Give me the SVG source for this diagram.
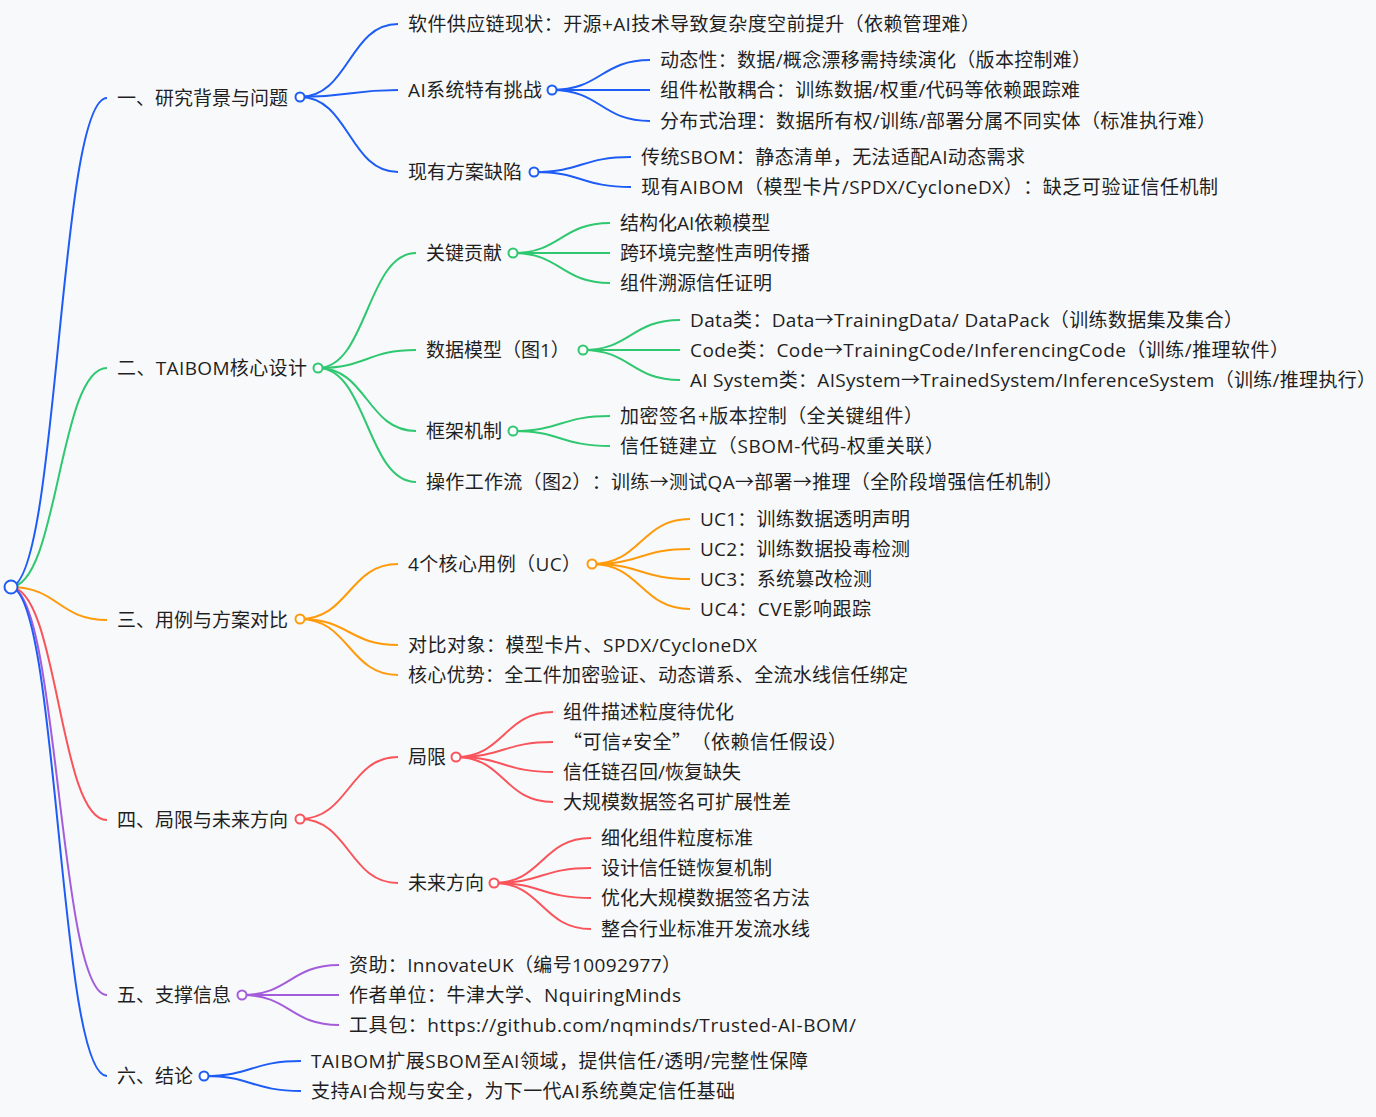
<svg xmlns="http://www.w3.org/2000/svg" width="1376" height="1117" viewBox="0 0 1376 1117">
<style>
text{font-family:"Open Sans","Noto Sans CJK SC",sans-serif;font-size:19px;fill:#1f1f1f;text-spacing-trim:space-all}
.q{font-family:"Noto Sans CJK SC",sans-serif}
path{fill:none;stroke-width:2}
circle{fill:#fff;stroke-width:2}
.cb{stroke:#1d5cf5}
.cg{stroke:#2fc870}
.co{stroke:#ff9a0a}
.cr{stroke:#f9545b}
.cp{stroke:#a35ddb}
</style>
<rect width="1376" height="1117" fill="#f8f9fb"/>
<g id="connectors">
<path class="cb" d="M10,587 C58.5,587 58.5,98 107,98"/>
<path class="cg" d="M10,587 C58.5,587 58.5,368 107,368"/>
<path class="co" d="M10,587 C58.5,587 58.5,620 107,620"/>
<path class="cr" d="M10,587 C58.5,587 58.5,820 107,820"/>
<path class="cp" d="M10,587 C58.5,587 58.5,995 107,995"/>
<path class="cb" d="M10,587 C58.5,587 58.5,1076 107,1076"/>
<path class="cb" d="M300,97 C349,97 349,24 398,24"/>
<path class="cb" d="M300,97 C349,97 349,90 398,90"/>
<path class="cb" d="M300,97 C349,97 349,172 398,172"/>
<path class="cb" d="M552,90 C601,90 601,60 650,60"/>
<path class="cb" d="M552,90 C601,90 601,90 650,90"/>
<path class="cb" d="M552,90 C601,90 601,121 650,121"/>
<path class="cb" d="M534,172 C582,172 582,157 631,157"/>
<path class="cb" d="M534,172 C582,172 582,187 631,187"/>
<path class="cg" d="M318,368 C367,368 367,253 416,253"/>
<path class="cg" d="M318,368 C367,368 367,350 416,350"/>
<path class="cg" d="M318,368 C367,368 367,431 416,431"/>
<path class="cg" d="M318,368 C367,368 367,482 416,482"/>
<path class="cg" d="M513,253 C561,253 561,223 610,223"/>
<path class="cg" d="M513,253 C561,253 561,253 610,253"/>
<path class="cg" d="M513,253 C561,253 561,283 610,283"/>
<path class="cg" d="M583,350 C631,350 631,320 680,320"/>
<path class="cg" d="M583,350 C631,350 631,350 680,350"/>
<path class="cg" d="M583,350 C631,350 631,380 680,380"/>
<path class="cg" d="M513,431 C561,431 561,416 610,416"/>
<path class="cg" d="M513,431 C561,431 561,446 610,446"/>
<path class="co" d="M300,619 C349,619 349,564 398,564"/>
<path class="co" d="M300,619 C349,619 349,645 398,645"/>
<path class="co" d="M300,619 C349,619 349,675 398,675"/>
<path class="co" d="M592,564 C641,564 641,519 690,519"/>
<path class="co" d="M592,564 C641,564 641,549 690,549"/>
<path class="co" d="M592,564 C641,564 641,579 690,579"/>
<path class="co" d="M592,564 C641,564 641,609 690,609"/>
<path class="cr" d="M300,819 C349,819 349,757 398,757"/>
<path class="cr" d="M300,819 C349,819 349,883 398,883"/>
<path class="cr" d="M456,757 C504,757 504,712 553,712"/>
<path class="cr" d="M456,757 C504,757 504,742 553,742"/>
<path class="cr" d="M456,757 C504,757 504,772 553,772"/>
<path class="cr" d="M456,757 C504,757 504,802 553,802"/>
<path class="cr" d="M494,883 C542,883 542,838 591,838"/>
<path class="cr" d="M494,883 C542,883 542,868 591,868"/>
<path class="cr" d="M494,883 C542,883 542,898 591,898"/>
<path class="cr" d="M494,883 C542,883 542,929 591,929"/>
<path class="cp" d="M242,995 C290,995 290,965 339,965"/>
<path class="cp" d="M242,995 C290,995 290,995 339,995"/>
<path class="cp" d="M242,995 C290,995 290,1025 339,1025"/>
<path class="cb" d="M204,1076 C252,1076 252,1061 301,1061"/>
<path class="cb" d="M204,1076 C252,1076 252,1091 301,1091"/>
</g>
<g id="root"><circle class="cb" cx="11" cy="587" r="6.5"/></g>
<g id="n1"><text x="117" y="105">一、研究背景与问题</text><circle class="cb" cx="300" cy="97" r="4.5"/></g>
<g id="n1-1"><text x="408" y="31" textLength="572">软件供应链现状：开源+AI技术导致复杂度空前提升（依赖管理难）</text></g>
<g id="n1-2"><text x="408" y="97" textLength="134">AI系统特有挑战</text><circle class="cb" cx="552" cy="90" r="4.5"/></g>
<g id="n1-2-1"><text x="660" y="67" textLength="431">动态性：数据/概念漂移需持续演化（版本控制难）</text></g>
<g id="n1-2-2"><text x="660" y="97" textLength="420">组件松散耦合：训练数据/权重/代码等依赖跟踪难</text></g>
<g id="n1-2-3"><text x="660" y="128" textLength="556">分布式治理：数据所有权/训练/部署分属不同实体（标准执行难）</text></g>
<g id="n1-3"><text x="408" y="179">现有方案缺陷</text><circle class="cb" cx="534" cy="172" r="4.5"/></g>
<g id="n1-3-1"><text x="641" y="164" textLength="384">传统SBOM：静态清单，无法适配AI动态需求</text></g>
<g id="n1-3-2"><text x="641" y="194" textLength="577">现有AIBOM（模型卡片/SPDX/CycloneDX）：缺乏可验证信任机制</text></g>
<g id="n2"><text x="117" y="375" textLength="190">二、TAIBOM核心设计</text><circle class="cg" cx="318" cy="368" r="4.5"/></g>
<g id="n2-1"><text x="426" y="260">关键贡献</text><circle class="cg" cx="513" cy="253" r="4.5"/></g>
<g id="n2-1-1"><text x="620" y="230">结构化AI依赖模型</text></g>
<g id="n2-1-2"><text x="620" y="260">跨环境完整性声明传播</text></g>
<g id="n2-1-3"><text x="620" y="290">组件溯源信任证明</text></g>
<g id="n2-2"><text x="426" y="357">数据模型（图1）</text><circle class="cg" cx="583" cy="350" r="4.5"/></g>
<g id="n2-2-1"><text x="690" y="327" textLength="553">Data类：Data→TrainingData/ DataPack（训练数据集及集合）</text></g>
<g id="n2-2-2"><text x="690" y="357" textLength="599">Code类：Code→TrainingCode/InferencingCode（训练/推理软件）</text></g>
<g id="n2-2-3"><text x="690" y="387" textLength="686">AI System类：AISystem→TrainedSystem/InferenceSystem（训练/推理执行）</text></g>
<g id="n2-3"><text x="426" y="438">框架机制</text><circle class="cg" cx="513" cy="431" r="4.5"/></g>
<g id="n2-3-1"><text x="620" y="423" textLength="303">加密签名+版本控制（全关键组件）</text></g>
<g id="n2-3-2"><text x="620" y="453" textLength="324">信任链建立（SBOM-代码-权重关联）</text></g>
<g id="n2-4"><text x="426" y="489" textLength="637">操作工作流（图2）：训练→测试QA→部署→推理（全阶段增强信任机制）</text></g>
<g id="n3"><text x="117" y="627">三、用例与方案对比</text><circle class="co" cx="300" cy="619" r="4.5"/></g>
<g id="n3-1"><text x="408" y="571" textLength="173">4个核心用例（UC）</text><circle class="co" cx="592" cy="564" r="4.5"/></g>
<g id="n3-1-1"><text x="700" y="526" textLength="210">UC1：训练数据透明声明</text></g>
<g id="n3-1-2"><text x="700" y="556" textLength="210">UC2：训练数据投毒检测</text></g>
<g id="n3-1-3"><text x="700" y="586" textLength="172">UC3：系统篡改检测</text></g>
<g id="n3-1-4"><text x="700" y="616" textLength="171">UC4：CVE影响跟踪</text></g>
<g id="n3-2"><text x="408" y="652" textLength="349">对比对象：模型卡片、SPDX/CycloneDX</text></g>
<g id="n3-3"><text x="408" y="682" textLength="500">核心优势：全工件加密验证、动态谱系、全流水线信任绑定</text></g>
<g id="n4"><text x="117" y="827">四、局限与未来方向</text><circle class="cr" cx="300" cy="819" r="4.5"/></g>
<g id="n4-1"><text x="408" y="764">局限</text><circle class="cr" cx="456" cy="757" r="4.5"/></g>
<g id="n4-1-1"><text x="563" y="719">组件描述粒度待优化</text></g>
<g id="n4-1-2"><text x="563" y="749" textLength="284"><tspan class="q">“</tspan>可信≠安全<tspan class="q">”</tspan>（依赖信任假设）</text></g>
<g id="n4-1-3"><text x="563" y="779">信任链召回/恢复缺失</text></g>
<g id="n4-1-4"><text x="563" y="809">大规模数据签名可扩展性差</text></g>
<g id="n4-2"><text x="408" y="890">未来方向</text><circle class="cr" cx="494" cy="883" r="4.5"/></g>
<g id="n4-2-1"><text x="601" y="845">细化组件粒度标准</text></g>
<g id="n4-2-2"><text x="601" y="875">设计信任链恢复机制</text></g>
<g id="n4-2-3"><text x="601" y="905">优化大规模数据签名方法</text></g>
<g id="n4-2-4"><text x="601" y="936">整合行业标准开发流水线</text></g>
<g id="n5"><text x="117" y="1002">五、支撑信息</text><circle class="cp" cx="242" cy="995" r="4.5"/></g>
<g id="n5-1"><text x="349" y="972" textLength="332">资助：InnovateUK（编号10092977）</text></g>
<g id="n5-2"><text x="349" y="1002" textLength="332">作者单位：牛津大学、NquiringMinds</text></g>
<g id="n5-3"><text x="349" y="1032" textLength="507">工具包：https://github.com/nqminds/Trusted-AI-BOM/</text></g>
<g id="n6"><text x="117" y="1083">六、结论</text><circle class="cb" cx="204" cy="1076" r="4.5"/></g>
<g id="n6-1"><text x="311" y="1068" textLength="497">TAIBOM扩展SBOM至AI领域，提供信任/透明/完整性保障</text></g>
<g id="n6-2"><text x="311" y="1098" textLength="424">支持AI合规与安全，为下一代AI系统奠定信任基础</text></g>
</svg>
